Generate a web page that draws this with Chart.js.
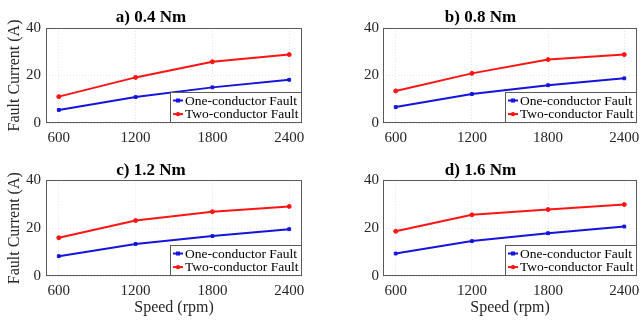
<!DOCTYPE html>
<html>
<head>
<meta charset="utf-8">
<script src="https://cdn.jsdelivr.net/npm/chart.js@4.4.0/dist/chart.umd.min.js"></script>
<style>
  body { margin: 0; background: #fff; }
  #wrap { position: relative; width: 642px; height: 320px; overflow: hidden; }
  canvas { position: absolute; }
</style>
</head>
<body>
<div id="wrap">
  <canvas id="chart-a" width="321" height="160" style="left:0;top:0"></canvas>
  <canvas id="chart-b" width="321" height="160" style="left:321px;top:0"></canvas>
  <canvas id="chart-c" width="321" height="160" style="left:0;top:160px"></canvas>
  <canvas id="chart-d" width="321" height="160" style="left:321px;top:160px"></canvas>
</div>
<script>
const speeds = [600, 1200, 1800, 2400];
const currentTicks = [0, 20, 40];
const seriesNames = ['One-conductor Fault', 'Two-conductor Fault'];
const panelTitles = ['a) 0.4 Nm', 'b) 0.8 Nm', 'c) 1.2 Nm', 'd) 1.6 Nm'];

// fault current (A) per torque
const oneCondA = [5.5, 10.9, 15.0, 18.2];
const twoCondA = [11.1, 19.2, 25.8, 28.8];
const oneCondB = [6.7, 12.2, 15.9, 18.8];
const twoCondB = [13.5, 20.9, 26.7, 28.8];
const oneCondC = [8.3, 13.4, 16.7, 19.6];
const twoCondC = [16.0, 23.2, 26.9, 29.1];
const oneCondD = [9.4, 14.6, 17.9, 20.7];
const twoCondD = [18.7, 25.6, 27.8, 29.9];

const serif = "'Liberation Serif', 'Times New Roman', serif";
Chart.defaults.font.family = serif;
Chart.defaults.color = '#262626';

const blue = 'rgb(20,20,220)';
const red = 'rgb(255,20,20)';

// axes box + legend in the lower right corner of the plot
const insideLegend = {
    id: 'insideLegend',
    afterDraw(chart) {
        const ctx = chart.ctx;
        const a = chart.chartArea;
        ctx.save();
        ctx.strokeStyle = '#5a5a5a';
        ctx.lineWidth = 1;
        ctx.strokeRect(Math.round(a.left) + 0.5, Math.round(a.top) + 0.5,
            Math.round(a.right - a.left) - 1, Math.round(a.bottom - a.top) - 1);

        ctx.font = '13.5px ' + serif;
        let tw = 0;
        chart.data.datasets.forEach(ds => { tw = Math.max(tw, ctx.measureText(ds.label).width); });
        const w = Math.round(tw + 19), h = 31;
        const x0 = Math.round(a.right) - w, y0 = Math.round(a.bottom) - h;
        ctx.fillStyle = '#fff';
        ctx.fillRect(x0, y0, w, h);
        ctx.strokeRect(x0 + 0.5, y0 + 0.5, w - 1, h - 1);
        ctx.textBaseline = 'middle';
        chart.data.datasets.forEach((ds, i) => {
            const cy = y0 + 8.5 + i * 13.6;
            ctx.strokeStyle = ds.borderColor;
            ctx.lineWidth = 2;
            ctx.beginPath();
            ctx.moveTo(x0 + 3, cy);
            ctx.lineTo(x0 + 13, cy);
            ctx.stroke();
            ctx.fillStyle = ds.borderColor;
            if (ds.pointStyle === 'rect') {
                ctx.fillRect(x0 + 6, cy - 2, 4, 4);
            } else {
                ctx.beginPath();
                ctx.arc(x0 + 8, cy, 2.2, 0, Math.PI * 2);
                ctx.fill();
            }
            ctx.fillStyle = '#000';
            ctx.fillText(ds.label, x0 + 15, cy + 0.5);
        });
        ctx.restore();
    }
};

function makeChart(id, title, one, two, isLeft, isBottom) {
    const canvas = document.getElementById(id);
    return new Chart(canvas, {
        type: 'line',
        data: {
            datasets: [{
                label: seriesNames[0],
                data: speeds.map((s, i) => ({ x: s, y: one[i] })),
                borderColor: blue,
                backgroundColor: blue,
                borderWidth: 2,
                pointStyle: 'rect',
                pointRadius: 2,
                pointBorderWidth: 1,
                tension: 0
            }, {
                label: seriesNames[1],
                data: speeds.map((s, i) => ({ x: s, y: two[i] })),
                borderColor: red,
                backgroundColor: red,
                borderWidth: 2,
                pointStyle: 'circle',
                pointRadius: 2,
                pointBorderWidth: 1,
                tension: 0
            }]
        },
        options: {
            responsive: false,
            animation: false,
            layout: { padding: { left: 0, right: isLeft ? 19 : 2, top: 0, bottom: 0 } },
            plugins: {
                legend: { display: false },
                tooltip: { enabled: false },
                title: {
                    display: true,
                    text: title,
                    color: '#000',
                    font: { size: 17, weight: 'bold' },
                    padding: { top: isBottom ? 0 : 7, bottom: isBottom ? 0 : 0.6 }
                }
            },
            scales: {
                x: {
                    type: 'linear',
                    min: 500,
                    max: 2500,
                    afterBuildTicks: s => { s.ticks = speeds.map(v => ({ value: v })); },
                    afterFit: s => { s.height = isBottom ? 44 : 37; s.paddingLeft = 0; s.paddingRight = 0; },
                    ticks: { padding: 6, maxRotation: 0, autoSkip: false, font: { size: 15 }, callback: v => String(v) },
                    grid: { color: 'rgba(0,0,0,0.1)', drawTicks: false },
                    border: { display: false, dash: [1, 2] },
                    title: { display: isBottom, text: 'Speed (rpm)', color: '#262626', font: { size: 16 }, padding: { top: 0, bottom: 3 } }
                },
                y: {
                    min: 0,
                    max: 40,
                    afterBuildTicks: s => { s.ticks = currentTicks.map(v => ({ value: v })); },
                    afterFit: s => { s.width = isLeft ? 46 : 62; s.paddingTop = 0; s.paddingBottom = 0; },
                    ticks: { padding: isLeft ? 5 : 4, font: { size: 15 } },
                    grid: { color: 'rgba(0,0,0,0.1)', drawTicks: false },
                    border: { display: false, dash: [1, 2] },
                    title: { display: isLeft, text: 'Fault Current (A)', color: '#262626', font: { size: 16 }, padding: { top: 5, bottom: 0 } }
                }
            }
        },
        plugins: [insideLegend]
    });
}

makeChart('chart-a', panelTitles[0], oneCondA, twoCondA, true, false);
makeChart('chart-b', panelTitles[1], oneCondB, twoCondB, false, false);
makeChart('chart-c', panelTitles[2], oneCondC, twoCondC, true, true);
makeChart('chart-d', panelTitles[3], oneCondD, twoCondD, false, true);
</script>
</body>
</html>
